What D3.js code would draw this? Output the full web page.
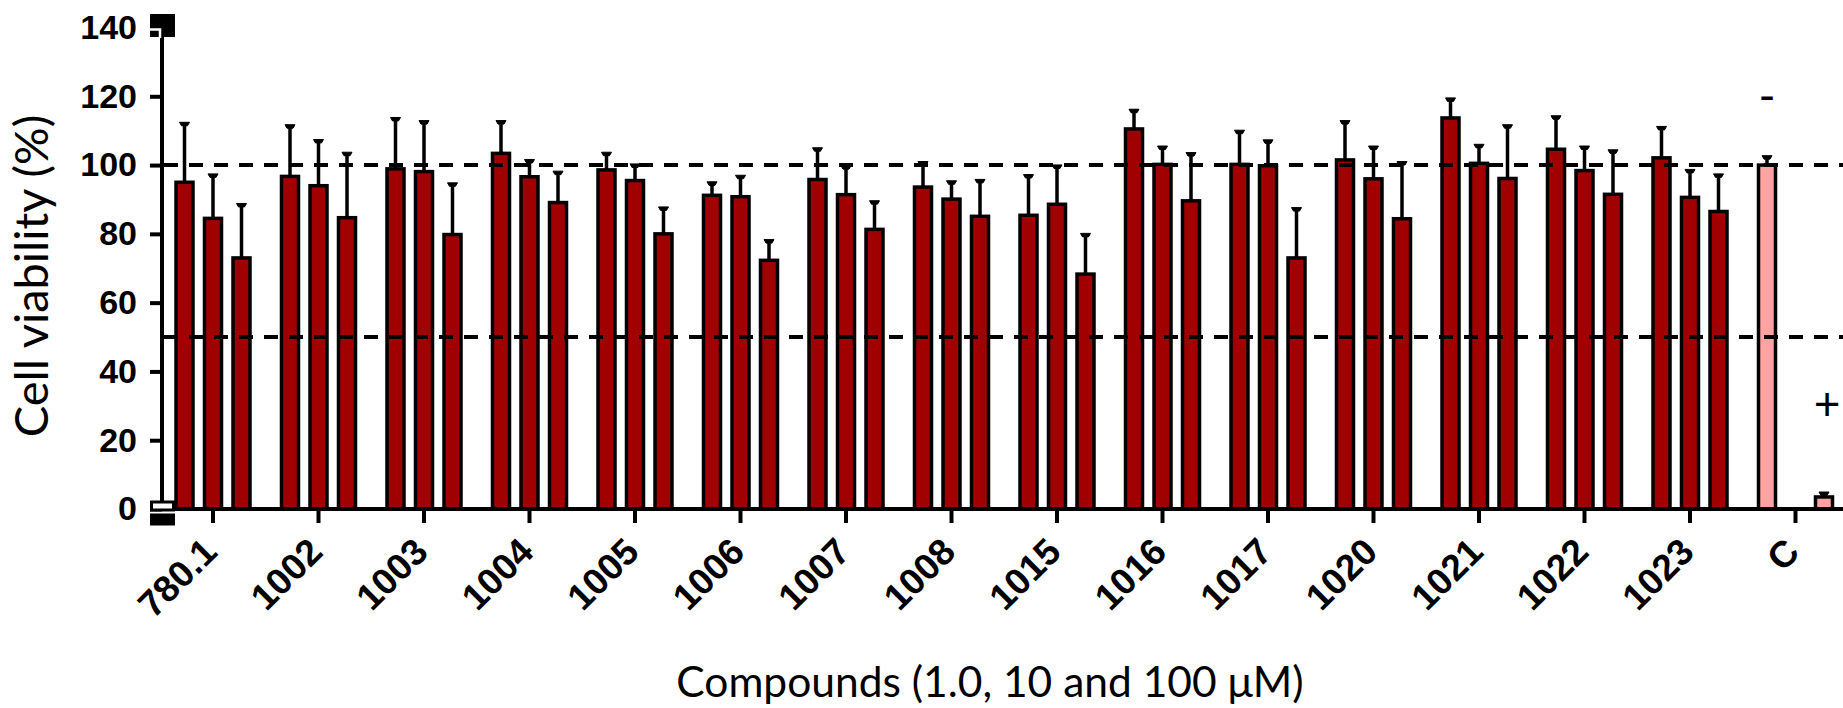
<!DOCTYPE html>
<html lang="en">
<head>
  <meta charset="UTF-8">
  <title>Cell viability</title>
  <script src="https://d3js.org/d3.v7.min.js"></script>
  <style>
    body { margin: 0; background: #fff; }
  </style>
</head>
<body>
  <div id="chart"></div>

  <script>
    // compounds tested at 1.0, 10 and 100 uM
    const compounds = ['780.1', '1002', '1003', '1004', '1005', '1006', '1007', '1008',
                       '1015', '1016', '1017', '1020', '1021', '1022', '1023'];
    const viab1   = [95, 96.7, 98.9, 103.4, 98.6, 91.2, 95.8, 93.6, 85.4, 110.5, 100.2, 101.5, 113.7, 104.6, 102.1];
    const viab10  = [84.5, 94, 98.1, 96.6, 95.5, 90.8, 91.4, 90.1, 88.6, 100.2, 99.8, 96, 100.5, 98.4, 90.6];
    const viab100 = [73, 84.7, 79.8, 89.1, 80, 72.3, 81.3, 85.1, 68.3, 89.6, 73, 84.4, 96.1, 91.5, 86.5];
    const err1    = [17, 14.6, 14.5, 9.1, 4.7, 3.5, 8.8, 7, 11.4, 5.3, 9.5, 11, 5.4, 9.3, 8.7];
    const err10   = [12.5, 13, 14.4, 4.6, 4.4, 5.8, 8, 4.9, 11, 4.9, 7.1, 9.1, 5.1, 6.7, 7.7];
    const err100  = [15.4, 18.6, 14.6, 8.7, 7.4, 5.6, 7.9, 10.3, 11.4, 13.6, 14.2, 16.2, 15.2, 12.5, 10.5];

    // controls: negative (-) and positive (+)
    const controlLabel = 'C';
    const controlMarks = ['-', '+'];
    const controlViab = [100, 3.5];
    const controlErr = [2.3, 1];

    const yTicks = [0, 20, 40, 60, 80, 100, 120, 140];
    const refLines = [50, 100];

    const width = 1843, height = 708;
    const red = '#a00000', pink = '#ffa3a3';
    const barW = 17;
    const tickFont = '"Liberation Sans", Arial, sans-serif';

    const svg = d3.select('#chart')
      .append('svg')
      .attr('width', width)
      .attr('height', height)
      .style('background', '#fff');

    const categories = compounds.concat([controlLabel]);

    const x = d3.scaleBand()
      .domain(categories)
      .range([160.25, 1848.25]);

    const offset = d3.scalePoint()
      .domain([0, 1, 2])
      .range([-28.5, 28.5]);

    const y = d3.scaleLinear()
      .domain([0, 140])
      .range([509, 27.5]);

    const cx = (cat, k) => x(cat) + x.bandwidth() / 2 + offset(k);

    // flatten into bar records
    const bars = [];
    compounds.forEach((c, i) => {
      bars.push({ cat: c, k: 0, v: viab1[i], e: err1[i], fill: red });
      bars.push({ cat: c, k: 1, v: viab10[i], e: err10[i], fill: red });
      bars.push({ cat: c, k: 2, v: viab100[i], e: err100[i], fill: red });
    });
    controlViab.forEach((v, i) => {
      bars.push({ cat: controlLabel, k: i * 2, v: v, e: controlErr[i], fill: pink });
    });

    // error bars (upper only)
    const errG = svg.append('g');
    errG.selectAll('line')
      .data(bars)
      .enter().append('line')
      .attr('x1', d => cx(d.cat, d.k))
      .attr('x2', d => cx(d.cat, d.k))
      .attr('y1', d => y(d.v))
      .attr('y2', d => y(d.v + d.e))
      .attr('stroke', '#000')
      .attr('stroke-width', 3.5);

    errG.selectAll('path')
      .data(bars)
      .enter().append('path')
      .attr('d', d => {
        const px = cx(d.cat, d.k), py = y(d.v + d.e);
        return `M${px - 5},${py - 1.5}L${px + 5},${py - 1.5}L${px + 3},${py + 2}L${px - 3},${py + 2}Z`;
      })
      .attr('fill', '#000')
      .attr('stroke', '#000')
      .attr('stroke-width', 1);

    // bars
    svg.append('g')
      .selectAll('rect')
      .data(bars)
      .enter().append('rect')
      .attr('x', d => cx(d.cat, d.k) - barW / 2)
      .attr('y', d => y(d.v))
      .attr('width', barW)
      .attr('height', d => y(0) - y(d.v))
      .attr('fill', d => d.fill)
      .attr('stroke', '#000')
      .attr('stroke-width', 3.5);

    // reference lines at 50 and 100 %
    svg.append('g')
      .selectAll('line')
      .data(refLines)
      .enter().append('line')
      .attr('x1', 164)
      .attr('x2', width)
      .attr('y1', d => y(d))
      .attr('y2', d => y(d))
      .attr('stroke', '#000')
      .attr('stroke-width', 4)
      .attr('stroke-dasharray', '14,11');

    // y axis
    const yAxis = svg.append('g')
      .attr('transform', 'translate(162,0)')
      .call(d3.axisLeft(y).tickValues(yTicks).tickSize(12).tickPadding(13).tickSizeOuter(0));
    yAxis.select('.domain').remove();
    yAxis.selectAll('.tick line').attr('stroke', '#000').attr('stroke-width', 4);
    yAxis.selectAll('.tick text')
      .attr('fill', '#000')
      .style('font-family', tickFont)
      .style('font-weight', 'bold')
      .style('font-size', '34px');
    yAxis.append('line')
      .attr('x1', 0).attr('x2', 0)
      .attr('y1', 37).attr('y2', 501)
      .attr('stroke', '#000')
      .attr('stroke-width', 4);

    // x axis
    const xAxis = svg.append('g')
      .attr('transform', 'translate(0,' + y(0) + ')')
      .call(d3.axisBottom(x).tickSize(14).tickSizeOuter(0));
    xAxis.select('.domain').remove();
    xAxis.selectAll('.tick line').attr('stroke', '#000').attr('stroke-width', 4);
    xAxis.selectAll('.tick text')
      .attr('fill', '#000')
      .attr('x', 0).attr('y', 0).attr('dy', 0)
      .attr('text-anchor', 'end')
      .attr('transform', 'translate(6,45) rotate(-45)')
      .style('font-family', tickFont)
      .style('font-weight', 'bold')
      .style('font-size', '37px');
    xAxis.append('line')
      .attr('x1', 173).attr('x2', width)
      .attr('y1', 0).attr('y2', 0)
      .attr('stroke', '#000')
      .attr('stroke-width', 4);

    // axis break marks
    const brk = svg.append('g');
    brk.append('rect').attr('x', 150).attr('y', 14).attr('width', 25).attr('height', 23).attr('fill', '#000');
    brk.append('path').attr('d', 'M148,29.5H160V38').attr('fill', 'none').attr('stroke', '#fff').attr('stroke-width', 2.5);
    brk.append('rect').attr('x', 151.5).attr('y', 502).attr('width', 22).attr('height', 8)
      .attr('fill', '#fff').attr('stroke', '#000').attr('stroke-width', 3);
    brk.append('rect').attr('x', 150).attr('y', 513.5).attr('width', 25).attr('height', 12).attr('fill', '#000');

    // control annotations
    svg.append('g')
      .selectAll('text')
      .data(controlMarks)
      .enter().append('text')
      .attr('x', (d, i) => cx(controlLabel, i * 2) + (i ? 3 : 0))
      .attr('y', (d, i) => i ? y(30) : y(119.5))
      .attr('dy', '0.3em')
      .attr('text-anchor', 'middle')
      .style('font-family', 'Lato, sans-serif')
      .style('font-size', '46px')
      .text(d => d);

    // axis titles
    svg.append('text')
      .attr('x', 990)
      .attr('y', 697)
      .attr('text-anchor', 'middle')
      .style('font-family', 'Lato, sans-serif')
      .style('font-size', '42.5px')
      .text('Compounds (1.0, 10 and 100 \u03BCM)');

    svg.append('text')
      .attr('transform', 'translate(48,276) rotate(-90)')
      .attr('text-anchor', 'middle')
      .style('font-family', 'Lato, sans-serif')
      .style('font-size', '47px')
      .text('Cell viability (%)');
  </script>
</body>
</html>
